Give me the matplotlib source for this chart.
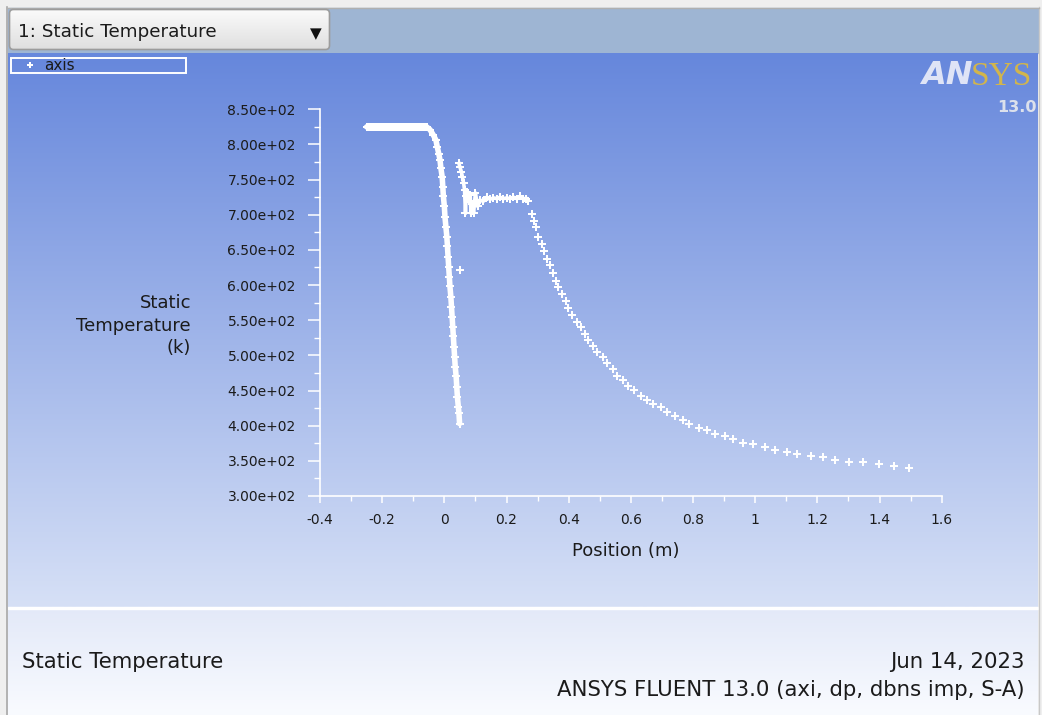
import numpy as np
import matplotlib
matplotlib.use("Agg")
import matplotlib.pyplot as plt
from matplotlib.colors import to_rgb
from matplotlib.patches import Rectangle, FancyBboxPatch
from matplotlib.ticker import FixedLocator, FixedFormatter, MultipleLocator

plt.rcParams['font.family'] = ['DejaVu Sans']

# ---------------- data: static temperature along the axis ----------------
# inlet section: constant plateau, then the sharp drop
inlet_x = [-0.250, -0.245, -0.240, -0.235, -0.230, -0.225, -0.220, -0.215, -0.210,
           -0.205, -0.200, -0.195, -0.190, -0.185, -0.180, -0.175, -0.170, -0.165,
           -0.160, -0.155, -0.150, -0.145, -0.140, -0.135, -0.130, -0.125, -0.120,
           -0.115, -0.110, -0.105, -0.100, -0.095, -0.090, -0.085, -0.080, -0.075,
           -0.070, -0.065, -0.060,
           -0.057, -0.046, -0.035, -0.027, -0.023, -0.018, -0.014, -0.011, -0.007,
           -0.005, -0.003, 0.000, 0.002, 0.005, 0.008, 0.010, 0.012, 0.014, 0.016,
           0.018, 0.021, 0.023, 0.025, 0.027, 0.029, 0.031, 0.033, 0.035, 0.038,
           0.040, 0.042, 0.045, 0.047, 0.049]
inlet_t = [825, 825, 825, 825, 825, 825, 825, 825, 825,
           825, 825, 825, 825, 825, 825, 825, 825, 825,
           825, 825, 825, 825, 825, 825, 825, 825, 825,
           825, 825, 825, 825, 825, 825, 825, 825, 825,
           825, 825, 825,
           825, 821, 813, 806, 797, 787, 778, 766, 754,
           740, 726, 712, 697, 683, 669, 655, 640, 626, 612,
           598, 583, 569, 555, 541, 527, 512, 498, 484, 470,
           455, 441, 427, 418, 403]

# outlet section near the throat: oscillating start and a flat shelf
shelf_x = [0.047, 0.050, 0.055, 0.058, 0.062, 0.065, 0.068, 0.070, 0.073, 0.078,
           0.083, 0.086, 0.090, 0.094, 0.100, 0.107, 0.115, 0.125, 0.136, 0.147,
           0.158, 0.169, 0.179, 0.190, 0.201, 0.211, 0.222, 0.233, 0.244, 0.252,
           0.262]
shelf_t = [773, 768, 761, 754, 745, 735, 702, 726, 733, 719,
           728, 702, 716, 702, 731, 712, 721, 719, 725, 722,
           724, 723, 725, 723, 724, 723, 725, 723, 726, 723,
           723]

# outlet section downstream: decay towards the exit
tail_x = [0.270, 0.281, 0.289, 0.295, 0.302, 0.313, 0.321, 0.329, 0.340, 0.349,
          0.359, 0.367, 0.380, 0.392, 0.399, 0.412, 0.426, 0.439, 0.453, 0.463,
          0.477, 0.490, 0.510, 0.522, 0.542, 0.555, 0.574, 0.592, 0.611, 0.632,
          0.651, 0.671, 0.696, 0.716, 0.742, 0.767, 0.787, 0.819, 0.844, 0.871,
          0.903, 0.930, 0.962, 0.994, 1.032, 1.064, 1.102, 1.134, 1.180, 1.219,
          1.257, 1.302, 1.348, 1.399, 1.445, 1.496]
tail_t = [720, 701, 691, 682, 668, 659, 648, 637, 628, 617,
          606, 597, 588, 577, 568, 557, 548, 540, 531, 522,
          514, 505, 497, 489, 480, 471, 465, 457, 451, 442,
          437, 431, 426, 420, 414, 408, 402, 397, 394, 388,
          385, 381, 376, 374, 369, 366, 363, 360, 357, 355,
          351, 348, 348, 346, 343, 340]

# isolated node value
stray_x = [0.050]
stray_t = [622]

x_ticks = [-0.4, -0.2, 0.0, 0.2, 0.4, 0.6, 0.8, 1.0, 1.2, 1.4, 1.6]
x_labels = ['-0.4', '-0.2', '0', '0.2', '0.4', '0.6', '0.8', '1', '1.2', '1.4', '1.6']
y_ticks = [300, 350, 400, 450, 500, 550, 600, 650, 700, 750, 800, 850]
y_labels = ['3.00e+02', '3.50e+02', '4.00e+02', '4.50e+02', '5.00e+02', '5.50e+02',
            '6.00e+02', '6.50e+02', '7.00e+02', '7.50e+02', '8.00e+02', '8.50e+02']

# ---------------- window frame ----------------
W, H = 1042, 715
fig = plt.figure(figsize=(W / 100, H / 100), dpi=100)
fig.patch.set_facecolor('#efefef')
bg = fig.add_axes([0, 0, 1, 1], zorder=0)
bg.axis('off')


def vgrad(x0, x1, y0, y1, c_top, c_bot, z=1, clip=None):
    t = np.linspace(0, 1, 256)[:, None, None]
    a = np.array(to_rgb(c_top))[None, None, :]
    b = np.array(to_rgb(c_bot))[None, None, :]
    img = a + (b - a) * t
    im = bg.imshow(img, extent=(x0, x1, y1, y0), aspect='auto', zorder=z,
                   interpolation='bilinear')
    if clip is not None:
        im.set_clip_path(clip)
    return im


RIGHT = 1038
# title strip and plotting canvas
bg.add_patch(Rectangle((8, 8), RIGHT - 8, 45, color='#9eb5d3', zorder=1))
vgrad(8, RIGHT, 53, 607, '#6687dc', '#d6e0f6')
bg.add_patch(Rectangle((8, 606.5), RIGHT - 8, 2.2, color='#ffffff', zorder=2))
vgrad(8, RIGHT, 608.7, 715, '#e3e9f8', '#f9fbff')
bg.plot([7, 7], [7, 715], color='#a8a8a8', lw=1.2, zorder=3)
bg.plot([RIGHT + 0.5, RIGHT + 0.5], [7, 715], color='#c8c8c8', lw=1.0, zorder=3)
bg.plot([7, RIGHT + 1], [7.5, 7.5], color='#b0b0b0', lw=1.0, zorder=3)

# selector box
box = FancyBboxPatch((9.5, 9.5), 320, 40, boxstyle='round,pad=0,rounding_size=4',
                     facecolor='none', edgecolor='#9c9c9c', lw=1.2, zorder=5)
bg.add_patch(box)
vgrad(9.5, 329.5, 9.5, 49.5, '#fbfbfb', '#dfdfdf', z=4, clip=box)
bg.text(18, 32, '1: Static Temperature', fontsize=13.2, color='#1b1b1b',
        ha='left', va='center', zorder=6)
bg.text(316, 34, '\u25bc', fontsize=11, color='#111111', ha='center', va='center', zorder=6)

# legend frame
bg.add_patch(Rectangle((10.5, 57.5), 175, 15.5, facecolor='none', edgecolor='white',
                       lw=1.4, zorder=5))

# product logo
bg.text(973, 76, 'AN', fontsize=23, fontweight='bold', fontstyle='italic',
        color='#dfe4f6', ha='right', va='center', zorder=6)
bg.text(971, 77, 'SYS', fontsize=24, family='Liberation Serif', color='#d2b54c',
        ha='left', va='center', zorder=6)
bg.text(1037, 108, '13.0', fontsize=11.5, fontweight='bold', color='#dce1ec',
        ha='right', va='center', zorder=6)

# footer text
bg.text(22, 662, 'Static Temperature', fontsize=15.3, color='#1b1b1b',
        ha='left', va='center', zorder=6)
bg.text(1025, 662, 'Jun 14, 2023', fontsize=15.3, color='#1b1b1b',
        ha='right', va='center', zorder=6)
bg.text(1025, 690, 'ANSYS FLUENT 13.0 (axi, dp, dbns imp, S-A)', fontsize=15.3,
        color='#1b1b1b', ha='right', va='center', zorder=6)

bg.set_xlim(0, W)
bg.set_ylim(H, 0)

# ---------------- XY plot ----------------
ax = fig.add_axes([320 / W, 1 - 496 / H, 621.7 / W, 386.7 / H], zorder=2)
ax.patch.set_alpha(0)

mk = dict(marker='P', markersize=5.4, markerfacecolor='white',
          markeredgewidth=0, color='white')
ax.plot(inlet_x, inlet_t, lw=4.0, solid_capstyle='round', **mk)
ax.plot(shelf_x, shelf_t, lw=2.6, **mk)
ax.plot(tail_x, tail_t, ls='none', label='axis', **mk)
ax.plot(stray_x, stray_t, ls='none', **mk)

ax.set_xlim(-0.4, 1.6)
ax.set_ylim(300, 850)

for s in ('top', 'right'):
    ax.spines[s].set_visible(False)
for s in ('left', 'bottom'):
    ax.spines[s].set_color('white')
    ax.spines[s].set_linewidth(1.2)

ax.xaxis.set_major_locator(FixedLocator(x_ticks))
ax.xaxis.set_major_formatter(FixedFormatter(x_labels))
ax.xaxis.set_minor_locator(MultipleLocator(0.1))
ax.yaxis.set_major_locator(FixedLocator(y_ticks))
ax.yaxis.set_major_formatter(FixedFormatter(y_labels))
ax.yaxis.set_minor_locator(MultipleLocator(25))

ax.tick_params(axis='y', which='major', direction='out', length=8.4, width=1.1,
               color='white', pad=9, labelsize=10, labelcolor='#1b1b1b')
ax.tick_params(axis='y', which='minor', direction='out', length=4.3, width=1.0,
               color='white')
ax.tick_params(axis='x', which='major', direction='out', length=5.2, width=1.1,
               color='white', pad=7, labelsize=10, labelcolor='#1b1b1b')
ax.tick_params(axis='x', which='minor', direction='out', length=3.4, width=1.0,
               color='white')

ax.set_xlabel('Position (m)', fontsize=13, color='#1b1b1b', va='center')
ax.xaxis.set_label_coords(0.492, -0.142)
ax.set_ylabel('Static\nTemperature\n(k)', fontsize=13, color='#1b1b1b', rotation=0,
              ha='right', va='center', multialignment='right', linespacing=1.32)
ax.yaxis.set_label_coords(-0.2075, 0.44)

ax.legend(loc='center left', bbox_to_anchor=(22 / W, 1 - 65.5 / H),
          bbox_transform=fig.transFigure, frameon=False, fontsize=11,
          handlelength=1.0, handletextpad=0.45, borderpad=0, borderaxespad=0,
          markerscale=0.7, labelcolor='#1b1b1b')

fig.savefig('out.png', dpi=100, facecolor=fig.get_facecolor())
